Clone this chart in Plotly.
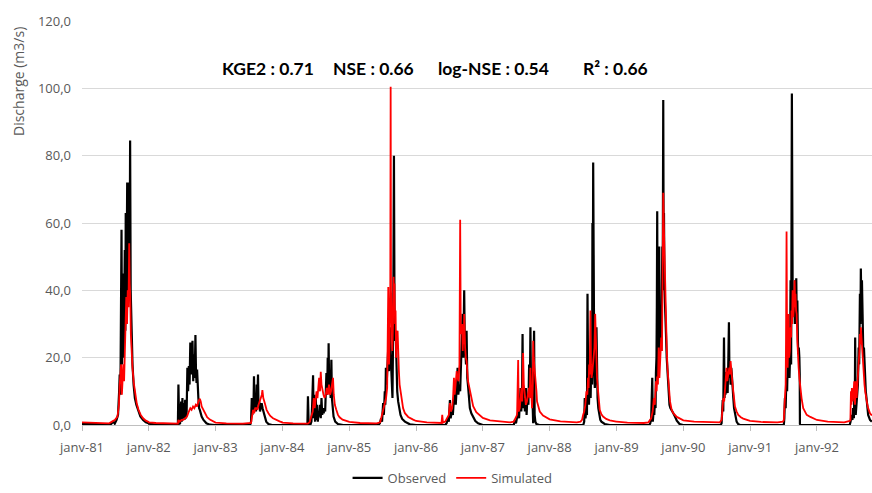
import pandas as pd
import plotly.graph_objects as go

# ---- data: (day of year, discharge m3/s) per hydrological year ----
OBS_1981 = [(1,0.3),(160,0.3),(172,1.0),(180,0.4),(190,1.5),(198,3),(204,10),(207,15),(211,9),(214,30),(217,58),(220,18),(223,35),(226,45),(229,20),(232,40),(235,52),(238,28),(240,63),(243,30),(246,50),(248,72),(251,38),(254,60),(257,45),(259,72),(262,55),(264,84.5),(267,40),(270,32),(273,24),(277,18),(283,12),(290,8),(298,6),(308,4.5),(320,2.5),(335,1.5),(350,0.8),(365,0.5)]
SIM_1981 = [(1,0.8),(60,0.6),(150,0.5),(165,1.0),(180,1.5),(195,2.5),(203,6),(207,12),(211,16),(215,18),(219,9),(223,15),(227,18),(231,13),(235,20),(239,25),(243,38),(247,30),(251,40),(255,35),(259,54),(262,42),(265,38),(268,27),(272,22),(277,17),(284,12.5),(292,8.5),(300,6.5),(310,4.5),(322,3),(335,2),(350,1.3),(365,0.9)]

OBS_1982 = [(1,0.4),(40,0.1),(100,0),(160,0),(163,12),(167,0.5),(172,0.3),(178,7),(181,1),(185,8),(188,2),(192,6.5),(196,1.5),(200,7.5),(204,2),(208,4),(212,17),(216,10),(220,17.5),(224,12),(228,24.5),(232,15),(236,20),(240,25),(244,13),(248,21),(252,14),(256,26.7),(259,16),(262,12.5),(265,16.5),(268,10),(272,8),(276,5),(280,4.5),(290,2.5),(300,1.5),(316,0.5),(335,0.1),(365,0)]
SIM_1982 = [(1,0.8),(40,0.6),(120,0.4),(160,0.4),(163,1.5),(170,1.0),(180,1.5),(190,1.5),(200,2),(210,2.5),(220,4),(228,5),(235,4.5),(243,5.5),(250,5),(258,6),(265,5.5),(272,7),(280,7.8),(285,7),(290,5.5),(298,4.5),(308,3.5),(320,2.3),(335,1.6),(350,1.1),(365,0.8)]

OBS_1983 = [(1,0),(150,0),(190,0),(195,1),(199,8),(202,3),(205,6),(208,4),(211,14.5),(214,5),(218,9),(222,4),(226,12),(229,6),(233,15),(236,5),(240,7),(244,4),(248,6),(253,6.5),(258,5),(264,3.5),(270,2),(278,1),(290,0.3),(310,0),(365,0)]
SIM_1983 = [(1,0.7),(60,0.5),(150,0.4),(195,0.6),(200,2),(206,4.5),(212,3.5),(218,5),(224,5),(230,4.5),(236,6),(242,7),(248,8),(254,9),(257,10.4),(262,8),(270,6.5),(280,4.5),(290,3.5),(300,2.7),(315,2),(335,1.4),(351,1.1),(365,0.8)]

OBS_1984 = [(1,0),(138,0),(141,8.5),(145,0.3),(155,0.2),(160,1),(164,6),(169,14.8),(172,2),(176,9),(180,1),(184,8),(187,1.5),(191,6),(195,1),(199,4),(203,2.5),(207,6),(211,2),(215,8),(219,3),(223,5),(227,3.5),(231,5),(235,4),(238,10),(242,15.4),(246,9),(249,20),(252,11),(254,24.3),(257,11),(261,16),(265,8),(269,19.4),(272,8),(276,5),(281,2.5),(290,1),(305,0.3),(333,0),(365,0)]
SIM_1984 = [(1,0.7),(60,0.5),(140,0.4),(150,0.8),(160,2.5),(167,4),(173,8),(178,5),(183,7.5),(188,10),(193,8),(198,12),(202,14),(207,10),(211,15.8),(215,12),(220,10),(226,9),(232,8),(238,9),(244,11),(250,9),(256,12),(262,9),(267,10),(273,13),(278,14),(282,9),(288,6),(296,4.5),(305,3),(314,2.3),(330,1.6),(351,1.2),(365,1.0)]

OBS_1985 = [(1,0),(160,0),(168,0.5),(175,2),(180,1),(186,6.5),(190,3),(195,10),(198,6),(201,17),(205,12),(209,20),(214,23),(218,16),(223,29),(227,21),(232,12),(237,8),(241,30),(245,80),(248,35),(251,25),(255,27),(259,13.4),(263,10),(268,7),(274,4.5),(281,3),(290,1.8),(305,1),(332,0.2),(365,0)]
SIM_1985 = [(1,0.9),(60,0.6),(150,0.5),(170,0.8),(177,2.5),(185,4),(195,6),(202,8),(208,11),(211,22),(214,41),(218,18),(222,25),(225,40),(227,100.5),(229,40),(232,33),(236,22),(240,30),(243,44),(246,38),(248,42),(251,30),(254,34),(257,20),(260,27),(265,28),(268,19),(272,16),(276,12),(281,10),(288,7),(295,5),(305,3.5),(323,2.4),(350,1.6),(365,1.3)]

OBS_1986 = [(1,0),(160,0),(168,0.5),(175,2),(180,1),(186,7.4),(190,2),(196,4),(202,3),(208,8),(213,11),(218,6),(223,13),(228,17),(232,9),(237,12),(242,10),(246,20),(250,23),(255,33),(259,20),(264,40),(267,25),(270,23),(274,18),(277,28),(281,14),(286,11),(291,7),(295,5),(303,3.5),(313,2.5),(325,1.2),(340,0.5),(365,0)]
SIM_1986 = [(1,1.2),(60,0.8),(140,0.6),(144,3),(148,0.7),(160,1),(170,2),(180,3),(186,6.5),(192,4),(198,5),(203,8),(208,14),(212,9),(217,12),(223,16),(228,14),(233,13),(238,18),(242,61),(245,30),(248,27),(253,30),(256,22),(259,27),(262,24),(264,33),(267,25),(269,23),(273,20),(277,19),(285,13),(295,10),(305,7),(313,5.6),(330,3.8),(349,2.8),(365,2.1)]

OBS_1987 = [(1,0),(170,0),(176,1.5),(182,0.5),(188,3),(194,4),(199,2),(204,6),(207,11),(211,4),(215,9),(218,27),(221,5),(226,8),(231,4),(236,11),(240,3),(245,9),(250,6),(254,18),(258,10),(261,29),(265,8),(270,12),(274,7),(276,0.5),(279,20),(281,28),(284,3),(288,1),(294,0.3),(310,0),(365,0)]
SIM_1987 = [(1,2.1),(40,1.4),(100,1),(150,0.8),(170,1),(180,2),(188,3),(194,19.3),(197,4),(203,5),(208,8),(212,11),(216,7),(221,21.4),(225,12),(230,8),(236,6),(242,7),(248,9),(253,11),(257,8),(261,17),(265,10),(270,5),(274,12),(276,25),(279,20),(283,17),(287,15),(290,14),(294,10),(297,7),(305,5),(312,4),(330,2.8),(348,2.2),(365,1.7)]

OBS_1988 = [(1,0),(185,0),(190,1),(193,8),(197,2),(201,4),(205,3),(208,39),(212,10),(216,6),(221,15.5),(225,8),(229,20),(233,12),(235,60),(237,30),(239,78),(242,27),(245,15),(248,11),(252,14),(257,29),(260,12),(263,8),(267,5),(271,3),(278,1.5),(284,1),(302,0.3),(330,0),(365,0)]
SIM_1988 = [(1,1.7),(60,1.1),(150,0.8),(170,1),(178,1.5),(184,3),(190,4),(196,6),(202,10),(207,9),(211,14),(214,11),(217,18),(220,15),(224,34),(227,18),(230,14),(235,16),(239,18),(243,20),(246,23),(250,33),(253,27),(257,20),(260,14),(266,10),(270,7),(275,4.5),(284,3.2),(293,2.5),(310,1.8),(330,1.4),(365,1.0)]

OBS_1989 = [(1,0),(180,0),(185,0.5),(190,2),(196,14),(199,1),(203,4),(207,3),(211,8),(214,5),(216,15.5),(219,20),(221,35),(223,63.5),(226,14),(229,30),(232,40),(234,53),(237,20),(240,30),(242,35),(245,22),(248,34),(251,53),(253,40),(256,96.5),(258,55),(260,63),(263,40),(265,35),(268,30),(271,27),(275,20),(278,17),(285,10),(290,6),(295,5),(302,4.5),(311,3.5),(320,2.5),(330,1.3),(345,0.3),(356,0),(365,0)]
SIM_1989 = [(1,1.0),(60,0.7),(150,0.6),(175,0.8),(183,1.3),(190,2),(198,4),(205,8),(210,6),(216,13),(220,10),(223,14.4),(227,12),(231,23),(235,14),(239,18),(242,20),(245,26),(249,22),(253,43),(256,69),(259,60),(262,53),(265,40),(267,33),(271,26),(275,23),(279,17),(283,13),(288,9),(293,7),(302,4.5),(311,3.5),(330,2.4),(347,1.9),(365,1.6)]

OBS_1990 = [(1,0),(205,0),(210,0.5),(213,3),(216,7.4),(219,4),(223,26),(226,8),(228,11),(231,9),(234,14),(237,15.7),(240,11),(243,9.5),(247,20),(250,30.5),(253,14),(256,16),(259,12),(263,17),(267,14),(270,10),(274,8),(278,5),(283,3),(292,1),(300,0.3),(310,0),(365,0)]
SIM_1990 = [(1,1.4),(60,1.0),(150,0.8),(200,0.8),(210,1.5),(215,4),(219,8),(224,7),(228,10),(232,12),(237,17),(241,13),(245,14),(249,16),(252,17),(256,15),(259,19),(262,16),(266,14),(270,12),(274,10),(278,7.5),(283,5.5),(292,4),(301,3),(315,2.3),(328,1.9),(365,1.2)]

OBS_1991 = [(1,0),(185,0),(188,2),(191,8),(195,5),(199,14),(203,10),(207,21),(210,16),(213,29),(216,14),(219,20),(222,43),(225,18),(229,98.5),(231,45),(233,43),(236,33),(239,36),(242,40),(245,30),(248,43),(251,38),(253,43.6),(256,30),(259,37),(262,25),(264,21),(267,23),(270,20),(272,15),(273,0.3),(280,0),(365,0)]
SIM_1991 = [(1,1.2),(60,0.9),(150,0.8),(180,1),(185,1.5),(191,8),(195,12),(197,25),(200,57.5),(203,22),(206,17),(209,25),(211,33),(214,20),(218,22),(222,29),(225,26),(227,34),(230,30),(233,40),(237,32),(240,35),(244,43),(247,35),(249,39),(252,34),(255,33),(259,25),(262,20),(266,17),(270,14),(273,12),(278,10),(282,8),(291,5),(300,4),(310,3),(330,2.4),(346,1.9),(365,1.5)]

OBS_1992 = [(1,0),(180,0),(185,1),(190,3),(195,1.5),(199,5),(203,2),(205,8),(208,4),(210,26),(213,3),(217,6),(221,8),(225,12),(229,23),(232,18),(236,39),(239,30),(241,46.5),(244,35),(247,43),(250,28),(252,33),(255,20),(258,23),(262,16),(265,14),(268,10),(272,8),(276,5),(281,3),(291,1.5),(301,1)]
SIM_1992 = [(1,1.5),(60,1.0),(150,0.8),(180,1.2),(184,1.5),(187,10),(190,6),(192,11),(196,7),(200,9),(205,13),(209,6),(214,13),(218,8),(222,11),(226,14),(229,17),(233,22),(236,27),(239,24),(241,29),(244,26),(247,24),(250,20),(254,17),(257,15),(261,12),(265,10),(269,8),(275,6.5),(281,5),(291,3.5),(301,2.8)]

YEARS = list(range(1981, 1993))
OBS = [OBS_1981, OBS_1982, OBS_1983, OBS_1984, OBS_1985, OBS_1986,
       OBS_1987, OBS_1988, OBS_1989, OBS_1990, OBS_1991, OBS_1992]
SIM = [SIM_1981, SIM_1982, SIM_1983, SIM_1984, SIM_1985, SIM_1986,
       SIM_1987, SIM_1988, SIM_1989, SIM_1990, SIM_1991, SIM_1992]

X_TICK_DATES = [f"{y}-01-01" for y in YEARS]
X_TICK_TEXT = [f"janv-{str(y)[2:]}" for y in YEARS]
Y_TICKS = [0, 20, 40, 60, 80, 100, 120]
Y_TICK_TEXT = [f"{v},0" for v in Y_TICKS]
METRICS = ["KGE2 : 0.71", "NSE : 0.66", "log-NSE : 0.54", "R² : 0.66"]


def build(series):
    dates, vals = [], []
    for year, pts in zip(YEARS, series):
        base = pd.Timestamp(f"{year}-01-01")
        for d, q in pts:
            dates.append(base + pd.Timedelta(days=d - 1))
            vals.append(q)
    return dates, vals


od, ov = build(OBS)
sd, sv = build(SIM)

FONT = "Open Sans"
GREY = "#595959"

fig = go.Figure()
fig.add_trace(go.Scatter(x=od, y=ov, mode="lines", name="Observed",
                         line=dict(color="#000000", width=2.2)))
fig.add_trace(go.Scatter(x=sd, y=sv, mode="lines", name="Simulated",
                         line=dict(color="#ff0000", width=1.8)))

fig.update_layout(
    width=872, height=493,
    margin=dict(l=82, r=0, t=21, b=68, autoexpand=False),
    paper_bgcolor="white", plot_bgcolor="white",
    font=dict(family=FONT, size=13, color=GREY),
    showlegend=True,
    legend=dict(orientation="h", xref="container", yref="container",
                x=0.519, xanchor="center", y=-0.01, yanchor="bottom",
                font=dict(size=13, color=GREY), bgcolor="rgba(0,0,0,0)",
                itemwidth=30, tracegroupgap=0),
)
fig.update_xaxes(
    range=["1981-01-01", "1992-10-28"],
    tickmode="array", tickvals=X_TICK_DATES, ticktext=X_TICK_TEXT,
    showgrid=False, showline=True, linecolor="#bfbfbf", linewidth=1,
    ticks="outside", ticklen=5, tickcolor="#bfbfbf",
    tickfont=dict(size=13, color=GREY), zeroline=False,
    ticklabelstandoff=5, automargin=False,
)
fig.update_yaxes(
    range=[0, 120], tickmode="array", tickvals=Y_TICKS, ticktext=Y_TICK_TEXT,
    showgrid=True, gridcolor="#d9d9d9", gridwidth=1, zeroline=False,
    showline=False, ticks="", tickfont=dict(size=13, color=GREY),
    ticklabelstandoff=10, automargin=False,
)

fig.add_annotation(text="Discharge (m3/s)", textangle=-90, xref="paper",
                   yref="paper", x=-0.081, y=0.849, showarrow=False,
                   xanchor="center", yanchor="middle",
                   font=dict(size=14, color=GREY, family=FONT))

metric_x = [267.5, 373, 493.5, 615]
for txt, px in zip(METRICS, metric_x):
    fig.add_annotation(text=f"<b>{txt}</b>", xref="paper", yref="paper",
                       x=(px - 82) / 790, y=(425 - 68) / 404, showarrow=False,
                       xanchor="center", yanchor="middle",
                       font=dict(size=17.5, color="#000000", family="Lato"))

fig.write_html("out.html")
